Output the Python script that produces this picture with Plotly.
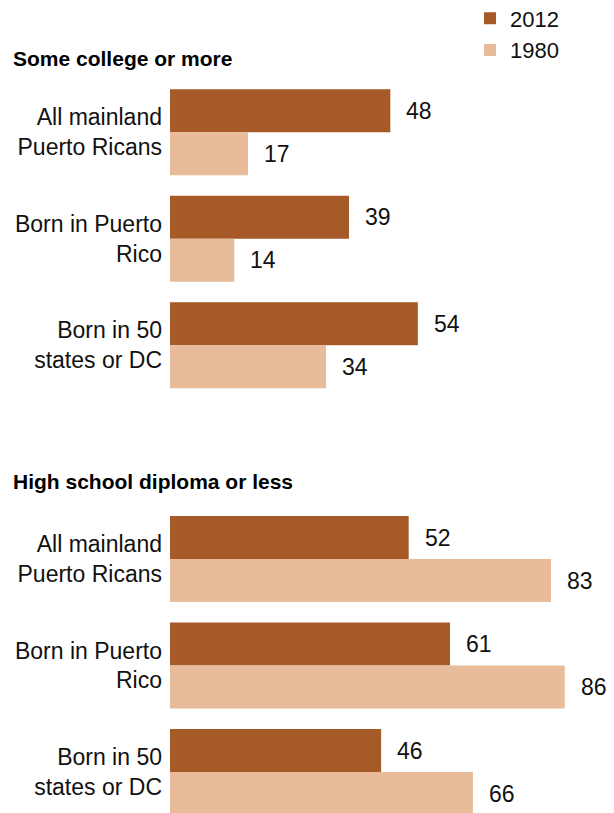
import plotly.graph_objects as go

categories = ["All mainland<br>Puerto Ricans", "Born in Puerto<br>Rico", "Born in 50<br>states or DC"]
college_2012 = [48, 39, 54]
college_1980 = [17, 14, 34]
hs_2012 = [52, 61, 46]
hs_1980 = [83, 86, 66]
series_names = ["2012", "1980"]
panel_titles = ["Some college or more", "High school diploma or less"]

C2012 = "#A55A27"
C1980 = "#E8BB9A"
FONT = "Liberation Sans, Arial, sans-serif"
BOLD = "Liberation Sans, Arial, sans-serif"

OFF = 8                      # page body margin
W, H = 614 - OFF, 813 - OFF
L = 170 - OFF
SCALE = 4.59                 # px per unit
XMAX = (W - L) / SCALE
PITCH = 106.5                # px per category


def ypix(p):                 # page pixel -> paper fraction
    return 1 - (p - OFF) / H


def xpix(p):
    return (p - OFF - L) / (W - L)


fig = go.Figure()
panels = [(college_2012, college_1980, "x", "y"), (hs_2012, hs_1980, "x2", "y2")]
for i, (v12, v80, xa, ya) in enumerate(panels):
    for name, vals, col in [(series_names[0], v12, C2012), (series_names[1], v80, C1980)]:
        fig.add_trace(go.Bar(
            y=list(range(len(categories))), x=vals, orientation="h", name=name,
            marker=dict(color=col, line=dict(width=0)),
            xaxis=xa, yaxis=ya, showlegend=(i == 0), hoverinfo="skip"))
        shift = 21.5 if name == "2012" else -21.5
        for j, v in enumerate(vals):
            fig.add_annotation(x=v, y=j, xref=xa, yref=ya, text=str(v), showarrow=False,
                               xanchor="left", yanchor="middle", xshift=14, yshift=shift,
                               font=dict(family=FONT, size=23, color="#111"))

top2 = 505.75
fig.update_layout(
    width=W, height=H, margin=dict(l=L, r=0, t=0, b=0, autoexpand=False),
    paper_bgcolor="white", plot_bgcolor="white",
    barmode="group", bargap=0.1925, bargroupgap=0,
    font=dict(family=FONT, size=22, color="#111"),
    xaxis=dict(domain=[0, 1], range=[0, XMAX], anchor="y", visible=False),
    xaxis2=dict(domain=[0, 1], range=[0, XMAX], anchor="y2", visible=False),
    yaxis=dict(domain=[ypix(398.5), ypix(79)], range=[2.5, -0.5], tickmode="array",
               tickvals=[0, 1, 2], ticktext=categories, showgrid=False, zeroline=False,
               showline=False, ticks="", ticklabelstandoff=7, anchor="x",
               tickfont=dict(family=FONT, size=23, color="#111")),
    yaxis2=dict(domain=[0, ypix(top2)], range=[(813 - top2) / PITCH - 0.5, -0.5], tickmode="array",
                tickvals=[0, 1, 2], ticktext=categories, showgrid=False, zeroline=False,
                showline=False, ticks="", ticklabelstandoff=7, anchor="x2",
                tickfont=dict(family=FONT, size=23, color="#111")),
    legend=dict(x=xpix(470), y=ypix(-2.5), xanchor="left", yanchor="top",
                font=dict(family=FONT, size=22, color="#111"), traceorder="normal",
                bgcolor="rgba(0,0,0,0)"),
)

for t, cy, cx in zip(panel_titles, [58, 481.5], [11, 11]):
    fig.add_annotation(x=xpix(cx), y=ypix(cy), xref="paper", yref="paper",
                       text="<b>" + t + "</b>", showarrow=False, xanchor="left", yanchor="middle",
                       font=dict(family=BOLD, size=21, color="#000"))

fig.write_html("out.html")
